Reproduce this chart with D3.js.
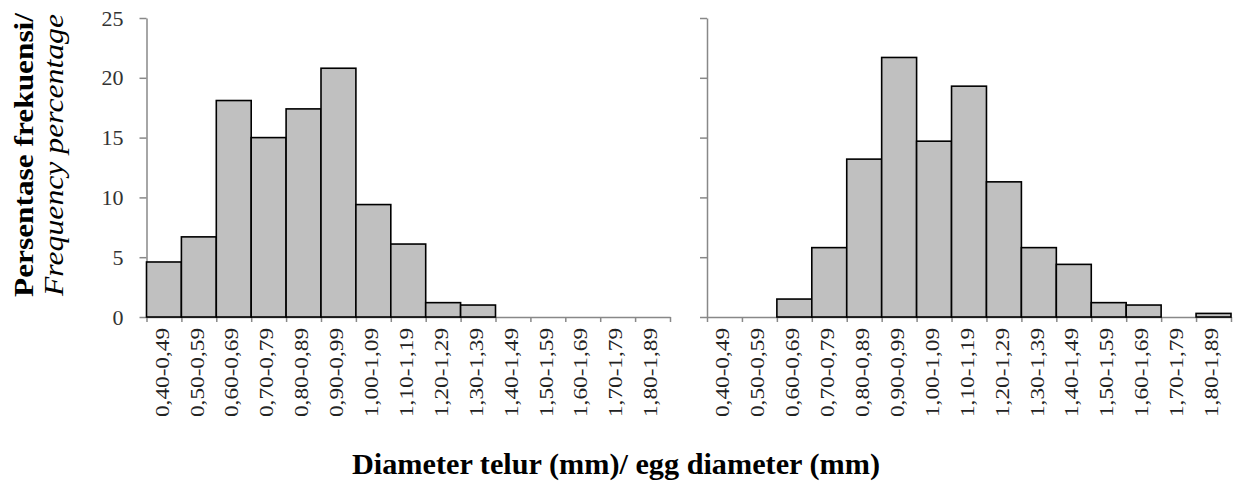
<!DOCTYPE html>
<html>
<head>
<meta charset="utf-8">
<script src="https://cdn.jsdelivr.net/npm/d3@7/dist/d3.min.js"></script>
<style>
    body { margin: 0; background: #fff; }
    svg { display: block; }
</style>
</head>
<body>
<svg id="chart"></svg>
<script>
// bins of egg diameter (mm)
const binLabels = ['0,40-0,49', '0,50-0,59', '0,60-0,69', '0,70-0,79', '0,80-0,89',
    '0,90-0,99', '1,00-1,09', '1,10-1,19', '1,20-1,29', '1,30-1,39',
    '1,40-1,49', '1,50-1,59', '1,60-1,69', '1,70-1,79', '1,80-1,89'];

// frequency percentage, left panel and right panel
const leftPercent = [4.6, 6.7, 18.1, 15.0, 17.4, 20.8, 9.4, 6.1, 1.2, 1.0, 0, 0, 0, 0, 0];
const rightPercent = [0, 0, 1.5, 5.8, 13.2, 21.7, 14.7, 19.3, 11.3, 5.8, 4.4, 1.2, 1.0, 0, 0.3];

const yTicks = [0, 5, 10, 15, 20, 25];

class HistPanel {

    constructor( config, data ) {
        this.config = {
            parent: config.parent,
            x0: config.x0,
            x1: config.x1,
            top: config.top || 18,
            bottom: config.bottom || 317,
            showYLabels: config.showYLabels
        }
        this.data = data;
        this.init();
    }

    init() {
        let self = this;

        self.chart = self.config.parent.append('g');

        self.yscale = d3.scaleLinear()
            .domain([0, 25])
            .range([self.config.bottom, self.config.top]);

        self.xscale = d3.scaleBand()
            .domain(binLabels)
            .range([self.config.x0, self.config.x1])
            .padding(0);

        // bin edges for the tick marks
        self.edgescale = d3.scaleLinear()
            .domain([0, binLabels.length])
            .range([self.config.x0, self.config.x1]);

        self.render();
    }

    render() {
        let self = this;
        let base = self.config.bottom;

        // y axis
        let yaxis = self.chart.append('g')
            .attr('transform', `translate(${self.config.x0}, 0)`)
            .call(d3.axisLeft(self.yscale)
                .tickValues(yTicks)
                .tickSize(7)
                .tickSizeOuter(0)
                .tickPadding(16)
                .tickFormat(d => self.config.showYLabels ? d : ''));
        yaxis.selectAll('path, line').attr('stroke', '#888').attr('stroke-width', 1.5);
        yaxis.selectAll('text')
            .style('font-family', '"Liberation Serif", "Times New Roman", serif')
            .style('font-size', '22px')
            .attr('fill', '#333');

        // x axis with ticks on the bin edges
        let xaxis = self.chart.append('g')
            .attr('transform', `translate(0, ${base})`)
            .call(d3.axisBottom(self.edgescale)
                .tickValues(d3.range(binLabels.length + 1))
                .tickSize(5)
                .tickSizeOuter(0)
                .tickFormat(''));
        xaxis.selectAll('path, line').attr('stroke', '#888').attr('stroke-width', 1.5);

        // bars
        self.chart.selectAll('rect.bar')
            .data(self.data.filter(d => d.value > 0))
            .join('rect')
            .attr('class', 'bar')
            .attr('x', d => self.xscale(d.label))
            .attr('width', self.xscale.bandwidth())
            .attr('y', d => self.yscale(d.value))
            .attr('height', d => base - self.yscale(d.value))
            .style('fill', '#c0c0c0')
            .style('stroke', '#000')
            .style('stroke-width', 1.6);

        // rotated bin labels
        self.chart.selectAll('text.bin')
            .data(binLabels)
            .join('text')
            .attr('class', 'bin')
            .attr('transform', d => `translate(${self.xscale(d) + self.xscale.bandwidth() / 2 - 2}, ${base + 11}) rotate(-90)`)
            .attr('dy', '0.35em')
            .attr('text-anchor', 'end')
            .attr('textLength', 89)
            .attr('lengthAdjust', 'spacingAndGlyphs')
            .style('font-family', '"Liberation Serif", "Times New Roman", serif')
            .style('font-size', '19px')
            .style('fill', '#222')
            .text(d => d);
    }
}

const svg = d3.select('#chart')
    .attr('width', 1234)
    .attr('height', 485);

svg.append('rect').attr('width', 1234).attr('height', 485).attr('fill', '#fff');

new HistPanel({ parent: svg, x0: 146.5, x1: 670, showYLabels: true },
    binLabels.map((l, i) => ({ label: l, value: leftPercent[i] })));
new HistPanel({ parent: svg, x0: 707, x1: 1231, showYLabels: false },
    binLabels.map((l, i) => ({ label: l, value: rightPercent[i] })));

// axis titles
svg.append('text')
    .attr('transform', 'translate(33, 155) rotate(-90)')
    .attr('text-anchor', 'middle')
    .attr('textLength', 284)
    .attr('lengthAdjust', 'spacingAndGlyphs')
    .style('font-family', '"Liberation Serif", "Times New Roman", serif')
    .style('font-weight', 'bold')
    .style('font-size', '27px')
    .text('Persentase frekuensi/');

svg.append('text')
    .attr('transform', 'translate(63, 155) rotate(-90)')
    .attr('text-anchor', 'middle')
    .attr('textLength', 282)
    .attr('lengthAdjust', 'spacingAndGlyphs')
    .style('font-family', '"Liberation Serif", "Times New Roman", serif')
    .style('font-style', 'italic')
    .style('font-size', '27px')
    .text('Frequency percentage');

svg.append('text')
    .attr('x', 616)
    .attr('y', 474)
    .attr('text-anchor', 'middle')
    .attr('textLength', 528)
    .attr('lengthAdjust', 'spacingAndGlyphs')
    .style('font-family', '"Liberation Serif", "Times New Roman", serif')
    .style('font-weight', 'bold')
    .style('font-size', '30px')
    .text('Diameter telur (mm)/ egg diameter (mm)');
</script>
</body>
</html>
